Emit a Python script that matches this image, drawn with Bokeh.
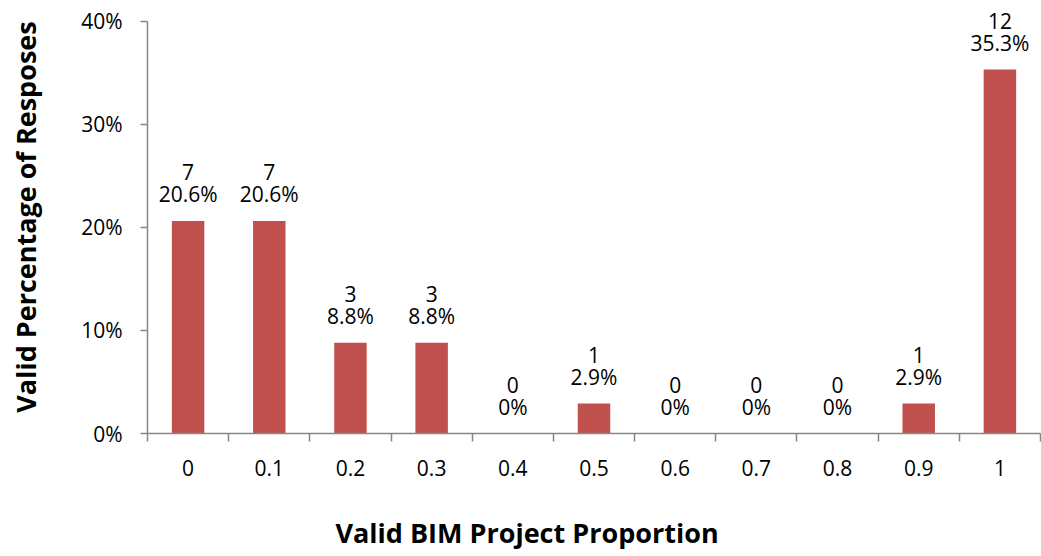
import numpy as np
from bokeh.plotting import figure
from bokeh.models import ColumnDataSource, FixedTicker, PrintfTickFormatter, Title
from bokeh.core.properties import value
from bokeh.embed import file_html
from bokeh.resources import INLINE

categories = ["0", "0.1", "0.2", "0.3", "0.4", "0.5", "0.6", "0.7", "0.8", "0.9", "1"]
counts = [7, 7, 3, 3, 0, 1, 0, 0, 0, 1, 12]
percents = [20.6, 20.6, 8.8, 8.8, 0, 2.9, 0, 0, 0, 2.9, 35.3]
y_ticks = [0, 10, 20, 30, 40]

FONT = "Open Sans"
BAR = "#C0504D"
AXIS = "#868686"

n = len(categories)
centers = np.arange(n) + 0.5
pct_labels = ["0%" if v == 0 else f"{v:.1f}%" for v in percents]
cnt_labels = [str(c) for c in counts]

src = ColumnDataSource(dict(x=centers, top=percents, pct=pct_labels, cnt=cnt_labels))

p = figure(width=1041, height=556, output_backend="svg", toolbar_location=None,
           x_range=(0, n), y_range=(0, 42),
           min_border_left=147, min_border_right=1, min_border_top=0, min_border_bottom=123)
p.outline_line_color = None
p.xgrid.grid_line_color = None
p.ygrid.grid_line_color = None
p.background_fill_color = "white"
p.border_fill_color = "white"

p.vbar(x="x", top="top", width=0.4, bottom=0, source=src, fill_color=BAR, line_color=None)

p.text(x="x", y="top", text="pct", source=src, text_align="center", text_baseline="bottom",
       y_offset=-13, text_font=value(FONT), text_font_size="21px", text_color="black")
p.text(x="x", y="top", text="cnt", source=src, text_align="center", text_baseline="bottom",
       y_offset=-41, text_font=value(FONT), text_font_size="21px", text_color="black")

# x axis
xa = p.xaxis[0]
xa.ticker = FixedTicker(ticks=list(centers), minor_ticks=list(np.arange(n + 1)))
xa.major_label_overrides = {float(c): lab for c, lab in zip(centers, categories)}
xa.major_tick_out = 0
xa.major_tick_in = 0
xa.minor_tick_out = 8
xa.minor_tick_in = 0
xa.minor_tick_line_color = AXIS
xa.axis_line_color = AXIS
xa.axis_line_width = 1.5
xa.minor_tick_line_width = 1.5
xa.major_label_text_font = FONT
xa.major_label_text_font_size = "21px"
xa.major_label_text_color = "black"
xa.major_label_standoff = 18

# y axis
ya = p.yaxis[0]
ya.ticker = FixedTicker(ticks=y_ticks)
ya.bounds = (0, 40)
ya.formatter = PrintfTickFormatter(format="%d%%")
ya.minor_tick_line_color = None
ya.major_tick_out = 7
ya.major_tick_in = 0
ya.major_tick_line_color = AXIS
ya.major_tick_line_width = 1.5
ya.axis_line_color = AXIS
ya.axis_line_width = 1.5
ya.major_label_text_font = FONT
ya.major_label_text_font_size = "21px"
ya.major_label_text_color = "black"
ya.major_label_standoff = 18
ya.axis_label = "Valid Percentage of Resposes"
ya.axis_label_text_font = FONT
ya.axis_label_text_font_style = "bold"
ya.axis_label_text_font_size = "27px"
ya.axis_label_text_color = "black"
ya.axis_label_standoff = 34

p.add_layout(Title(text="Valid BIM Project Proportion", align="left", offset=188,
                   text_font=FONT, text_font_style="bold", text_font_size="27px",
                   text_color="black", standoff=0, padding=(0, 0, 33, 0)), "below")

open("out.html", "w").write(file_html(p, INLINE))
